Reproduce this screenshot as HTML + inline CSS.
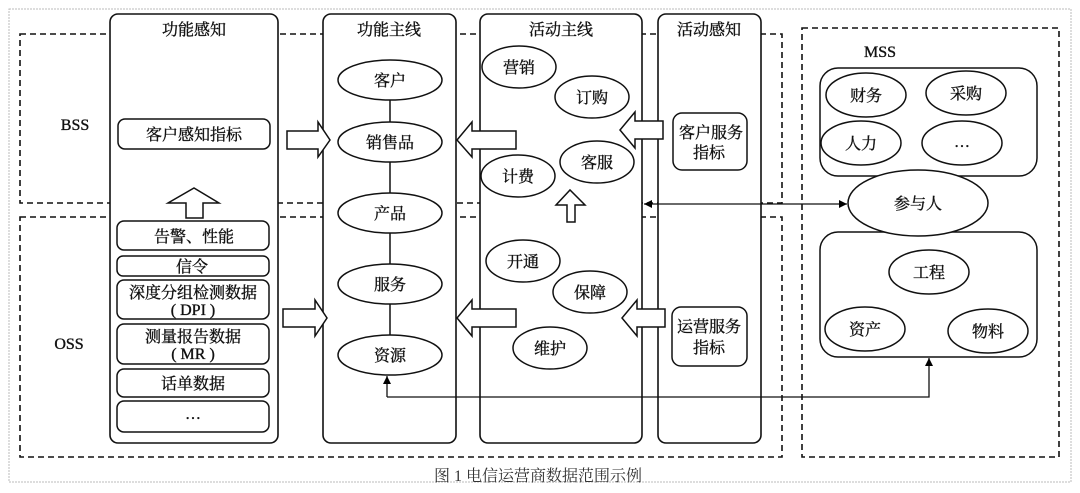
<!DOCTYPE html>
<html><head><meta charset="utf-8"><style>
html,body{margin:0;padding:0;background:#fff;}
svg{display:block;}
text{font-family:"Liberation Serif","Noto Serif CJK SC",serif;fill:#111;stroke:#111;stroke-width:0.35;}
</style></head><body>
<svg width="1080" height="493" viewBox="0 0 1080 493" xmlns="http://www.w3.org/2000/svg">
<defs>
<marker id="ah" viewBox="0 0 10 10" refX="10" refY="5" markerWidth="10" markerHeight="8" orient="auto-start-reverse" markerUnits="userSpaceOnUse"><path d="M0,0 L10,5 L0,10 z" fill="#000"/></marker>
</defs>
<rect x="9" y="9" width="1062" height="473" fill="none" stroke="#bbb" stroke-width="1" stroke-dasharray="2,1"/>
<g fill="none" stroke="#111" stroke-width="1.6" stroke-dasharray="6,4">
<rect x="20" y="34" width="762" height="169"/>
<rect x="20" y="217" width="762" height="240"/>
<rect x="802" y="28" width="257" height="429"/>
</g>
<g fill="#fff" stroke="#111" stroke-width="1.6">
<rect x="110" y="14" width="168" height="429" rx="8"/>
<rect x="323" y="14" width="133" height="429" rx="8"/>
<rect x="480" y="14" width="162" height="429" rx="8"/>
<rect x="658" y="14" width="103" height="429" rx="8"/>
</g>
<g font-size="16" text-anchor="middle">
<text x="194" y="35">功能感知</text>
<text x="389" y="35">功能主线</text>
<text x="561" y="35">活动主线</text>
<text x="709" y="35">活动感知</text>
<text x="75" y="130">BSS</text>
<text x="69" y="349">OSS</text>
<text x="880" y="57">MSS</text>
</g>
<g fill="#fff" stroke="#111" stroke-width="1.5">
<rect x="118" y="119" width="152" height="30" rx="7"/>
<rect x="117" y="221" width="152" height="29" rx="7"/>
<rect x="117" y="256" width="152" height="20" rx="6"/>
<rect x="117" y="280" width="152" height="39" rx="7"/>
<rect x="117" y="324" width="152" height="40" rx="7"/>
<rect x="117" y="369" width="152" height="28" rx="7"/>
<rect x="117" y="401" width="152" height="31" rx="7"/>
<path d="M186,218 L186,203 L168,203 L194,188 L219,203 L203,203 L203,218 Z"/>
<path d="M287,131 L318,131 L318,122 L330,140 L318,157 L318,149 L287,149 Z"/>
<path d="M283,309 L315,309 L315,300 L327,318 L315,336 L315,327 L283,327 Z"/>
<path d="M516,131 L472,131 L472,122 L457,140 L472,157 L472,149 L516,149 Z"/>
<path d="M516,309 L472,309 L472,300 L457,318 L472,336 L472,327 L516,327 Z"/>
<path d="M663,121 L635,121 L635,112 L620,130 L635,148 L635,139 L663,139 Z"/>
<path d="M665,309 L637,309 L637,300 L622,318 L637,336 L637,327 L665,327 Z"/>
<path d="M567,222 L567,205 L556,205 L570,190 L585,205 L575,205 L575,222 Z"/>
<rect x="673" y="113" width="74" height="57" rx="9"/>
<rect x="672" y="307" width="75" height="59" rx="9"/>
<rect x="820" y="68" width="217" height="108" rx="18"/>
<rect x="820" y="232" width="217" height="125" rx="18"/>
</g>
<g font-size="16" text-anchor="middle">
<text x="194" y="140">客户感知指标</text>
<text x="194" y="242">告警、性能</text>
<text x="192" y="272">信令</text>
<text x="193" y="298">深度分组检测数据</text>
<text x="193" y="315">( DPI )</text>
<text x="193" y="342">测量报告数据</text>
<text x="193" y="359">( MR )</text>
<text x="193" y="389">话单数据</text>
<text x="193" y="419">…</text>
<text x="711" y="138">客户服务</text>
<text x="709" y="158">指标</text>
<text x="709" y="332">运营服务</text>
<text x="709" y="353">指标</text>
</g>
<line x1="390" y1="80" x2="390" y2="355" stroke="#111" stroke-width="1.5"/>
<g fill="#fff" stroke="#111" stroke-width="1.5">
<ellipse cx="390" cy="80" rx="52" ry="20"/>
<ellipse cx="390" cy="142" rx="52" ry="20"/>
<ellipse cx="390" cy="213" rx="52" ry="20"/>
<ellipse cx="390" cy="284" rx="52" ry="20"/>
<ellipse cx="390" cy="355" rx="52" ry="20"/>
<ellipse cx="519" cy="67" rx="37" ry="21"/>
<ellipse cx="592" cy="97" rx="37" ry="21"/>
<ellipse cx="518" cy="176" rx="37" ry="21"/>
<ellipse cx="597" cy="162" rx="37" ry="21"/>
<ellipse cx="523" cy="261" rx="37" ry="21"/>
<ellipse cx="590" cy="292" rx="37" ry="21"/>
<ellipse cx="550" cy="348" rx="37" ry="21"/>
<ellipse cx="866" cy="95" rx="40" ry="22"/>
<ellipse cx="966" cy="93" rx="40" ry="22"/>
<ellipse cx="861" cy="143" rx="40" ry="22"/>
<ellipse cx="962" cy="143" rx="40" ry="22"/>
<ellipse cx="918" cy="203" rx="70" ry="33"/>
<ellipse cx="929" cy="272" rx="40" ry="22"/>
<ellipse cx="865" cy="329" rx="40" ry="22"/>
<ellipse cx="988" cy="331" rx="40" ry="22"/>
</g>
<g font-size="16" text-anchor="middle">
<text x="390" y="86">客户</text>
<text x="390" y="148">销售品</text>
<text x="390" y="219">产品</text>
<text x="390" y="290">服务</text>
<text x="390" y="361">资源</text>
<text x="519" y="73">营销</text>
<text x="592" y="103">订购</text>
<text x="518" y="182">计费</text>
<text x="597" y="168">客服</text>
<text x="523" y="267">开通</text>
<text x="590" y="298">保障</text>
<text x="550" y="354">维护</text>
<text x="866" y="101">财务</text>
<text x="966" y="99">采购</text>
<text x="861" y="149">人力</text>
<text x="962" y="147">…</text>
<text x="918" y="209">参与人</text>
<text x="929" y="278">工程</text>
<text x="865" y="335">资产</text>
<text x="988" y="337">物料</text>
</g>
<line x1="644" y1="204" x2="847" y2="204" stroke="#111" stroke-width="1.3" marker-start="url(#ah)" marker-end="url(#ah)"/>
<polyline points="387,397 929,397 929,358" fill="none" stroke="#111" stroke-width="1.3" marker-end="url(#ah)"/>
<line x1="387" y1="397" x2="387" y2="376" stroke="#111" stroke-width="1.3" marker-end="url(#ah)"/>
<text x="538" y="481" font-size="16" text-anchor="middle" style="fill:#333;stroke:none">图 1  电信运营商数据范围示例</text>
</svg>
</body></html>
